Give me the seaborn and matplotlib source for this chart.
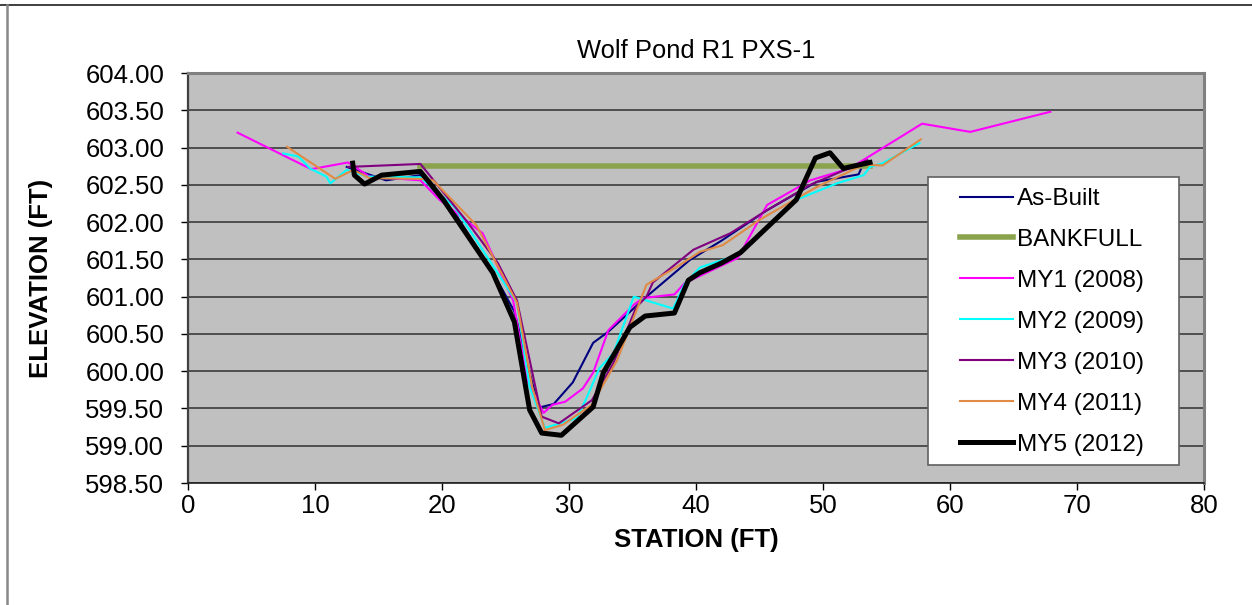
import numpy as np
import pandas as pd
import matplotlib
matplotlib.use("Agg")
import matplotlib.pyplot as plt
import seaborn as sns
from matplotlib.patches import Rectangle
from matplotlib.lines import Line2D

# ---------------- data ----------------
title = "Wolf Pond R1 PXS-1"
x_label = "STATION (FT)"
y_label = "ELEVATION (FT)"
x_ticks = [0, 10, 20, 30, 40, 50, 60, 70, 80]
y_ticks = [598.5, 599.0, 599.5, 600.0, 600.5, 601.0, 601.5, 602.0, 602.5, 603.0, 603.5, 604.0]

asbuilt_x = [12.5, 15.6, 18.3, 21.2, 24.0, 25.7, 27.6, 28.8, 30.3, 31.9, 33.1, 36.1, 39.5, 42.0, 45.6, 49.5, 52.8, 53.3]
asbuilt_y = [602.74, 602.56, 602.63, 602.07, 601.33, 600.80, 599.51, 599.56, 599.85, 600.38, 600.53, 601.00, 601.49, 601.75, 602.16, 602.54, 602.64, 602.83]

bankfull_x = [18.3, 53.7]
bankfull_y = [602.75, 602.75]

my1_x = [3.9, 9.7, 12.6, 14.3, 18.3, 19.8, 23.2, 25.6, 26.7, 28.0, 28.7, 29.7, 31.1, 31.9, 33.1, 35.1, 35.8, 38.3, 39.1, 43.3, 45.6, 49.0, 52.1, 57.8, 61.6, 67.9]
my1_y = [603.20, 602.71, 602.80, 602.61, 602.56, 602.30, 601.85, 600.95, 599.88, 599.44, 599.55, 599.59, 599.77, 599.98, 600.55, 600.89, 600.98, 601.03, 601.18, 601.52, 602.23, 602.56, 602.72, 603.32, 603.21, 603.48]

my2_x = [7.5, 8.7, 9.6, 10.9, 11.2, 12.5, 14.1, 18.3, 21.0, 25.9, 26.9, 28.1, 29.3, 30.6, 31.3, 32.4, 33.5, 35.1, 38.2, 39.1, 40.3, 43.3, 47.9, 51.1, 53.2, 53.7, 54.7, 57.6]
my2_y = [602.92, 602.88, 602.72, 602.61, 602.52, 602.70, 602.61, 602.60, 602.20, 600.92, 599.79, 599.24, 599.30, 599.37, 599.61, 600.04, 600.24, 601.00, 600.84, 601.17, 601.39, 601.56, 602.30, 602.52, 602.63, 602.74, 602.79, 603.06]

my3_x = [12.6, 18.3, 22.0, 24.4, 25.9, 27.85, 29.2, 31.8, 33.5, 35.3, 36.1, 36.6, 39.8, 42.7, 45.6, 49.0, 53.5]
my3_y = [602.74, 602.78, 602.00, 601.45, 600.95, 599.39, 599.30, 599.61, 600.11, 600.86, 601.00, 601.19, 601.63, 601.85, 602.16, 602.50, 602.83]

my4_x = [7.8, 11.6, 13.0, 14.3, 18.3, 19.3, 22.7, 25.9, 27.1, 28.1, 29.5, 31.8, 33.8, 36.1, 38.5, 40.3, 42.1, 45.0, 49.5, 53.2, 54.7, 57.7]
my4_y = [603.01, 602.58, 602.70, 602.59, 602.58, 602.56, 601.96, 600.92, 599.79, 599.21, 599.28, 599.55, 600.15, 601.16, 601.40, 601.60, 601.69, 602.03, 602.47, 602.77, 602.76, 603.11]

my5_x = [12.97, 13.1, 13.9, 15.25, 18.3, 20.1, 24.0, 25.7, 26.9, 27.85, 29.4, 31.9, 32.7, 34.8, 36.0, 38.3, 39.4, 40.3, 42.0, 43.5, 47.9, 49.4, 50.55, 51.6, 53.7]
my5_y = [602.79, 602.63, 602.51, 602.63, 602.68, 602.30, 601.32, 600.66, 599.48, 599.17, 599.14, 599.52, 599.98, 600.59, 600.74, 600.78, 601.22, 601.32, 601.45, 601.59, 602.30, 602.86, 602.93, 602.72, 602.80]

series_names = ["As-Built", "BANKFULL", "MY1 (2008)", "MY2 (2009)", "MY3 (2010)", "MY4 (2011)", "MY5 (2012)"]
series_x = [asbuilt_x, bankfull_x, my1_x, my2_x, my3_x, my4_x, my5_x]
series_y = [asbuilt_y, bankfull_y, my1_y, my2_y, my3_y, my4_y, my5_y]
series_colors = ["#000080", "#8BA34D", "#FF00FF", "#00FFFF", "#800080", "#E08A45", "#000000"]
series_widths = [1.5, 4.0, 1.5, 1.5, 1.5, 1.5, 3.6]

# ---------------- figure ----------------
W, H, DPI = 1252, 605, 100
plt.rcParams["font.family"] = ["Liberation Sans", "DejaVu Sans"]

fig = plt.figure(figsize=(W / DPI, H / DPI), dpi=DPI)
fig.patch.set_facecolor("white")
L, R, T, B = 188, 1204, 73, 483
ax = fig.add_axes([L / W, 1 - B / H, (R - L) / W, (B - T) / H])
ax.set_facecolor("#C0C0C0")

for name, xs, ys, c, lw in zip(series_names, series_x, series_y, series_colors, series_widths):
    df = pd.DataFrame({"x": xs, "y": ys})
    sns.lineplot(data=df, x="x", y="y", sort=False, estimator=None, ax=ax,
                 color=c, linewidth=lw, label=name, zorder=3)

ax.set_xlim(0, 80)
ax.set_ylim(598.5, 604.0)
ax.set_xticks(x_ticks)
ax.set_xticklabels([str(v) for v in x_ticks])
ax.set_yticks(y_ticks)
ax.set_yticklabels([f"{v:.2f}" for v in y_ticks])
ax.tick_params(axis="both", labelsize=18.5, direction="out", length=5, width=1, colors="#000000")
ax.tick_params(axis="y", pad=12)
ax.tick_params(axis="x", pad=3)
ax.yaxis.grid(True, color="#303030", linewidth=1.1, zorder=1)
ax.xaxis.grid(False)
ax.set_axisbelow(True)

for s in ["top", "right"]:
    ax.spines[s].set_color("#808080")
    ax.spines[s].set_linewidth(2.2)
ax.spines["left"].set_color("#404040")
ax.spines["left"].set_linewidth(1.6)
ax.spines["bottom"].set_color("#202020")
ax.spines["bottom"].set_linewidth(1.2)

ax.set_title(title, fontsize=18.4, pad=0, y=1.0 + (73 - 42 - 16) / (B - T))
ax.set_xlabel(x_label, fontsize=18.5, fontweight="bold", labelpad=7)
ax.set_ylabel(y_label, fontsize=18.5, fontweight="bold", labelpad=23)

# legend box
lx0, ly0, lx1, ly1 = 928, 177, 1179, 465
rect = Rectangle(((lx0 - L) / (R - L), (B - ly1) / (B - T)), (lx1 - lx0) / (R - L), (ly1 - ly0) / (B - T),
                 transform=ax.transAxes, facecolor="white", edgecolor="#606060", linewidth=1.2,
                 zorder=4, clip_on=False)
ax.add_patch(rect)
leg = ax.legend(loc="upper left", bbox_to_anchor=((960 - L) / (R - L), (B - 188) / (B - T)),
                frameon=False, fontsize=17.5, borderpad=0, borderaxespad=0,
                handlelength=2.2, handletextpad=0.15, labelspacing=0.78)
leg.set_zorder(5)

# figure frame lines
fig.add_artist(Line2D([0, 1], [1 - 5 / H, 1 - 5 / H], transform=fig.transFigure, color="#303030", linewidth=1.3))
fig.add_artist(Line2D([7 / W, 7 / W], [0, 1 - 5 / H], transform=fig.transFigure, color="#888888", linewidth=1.8))

fig.savefig("out.png", dpi=DPI)
